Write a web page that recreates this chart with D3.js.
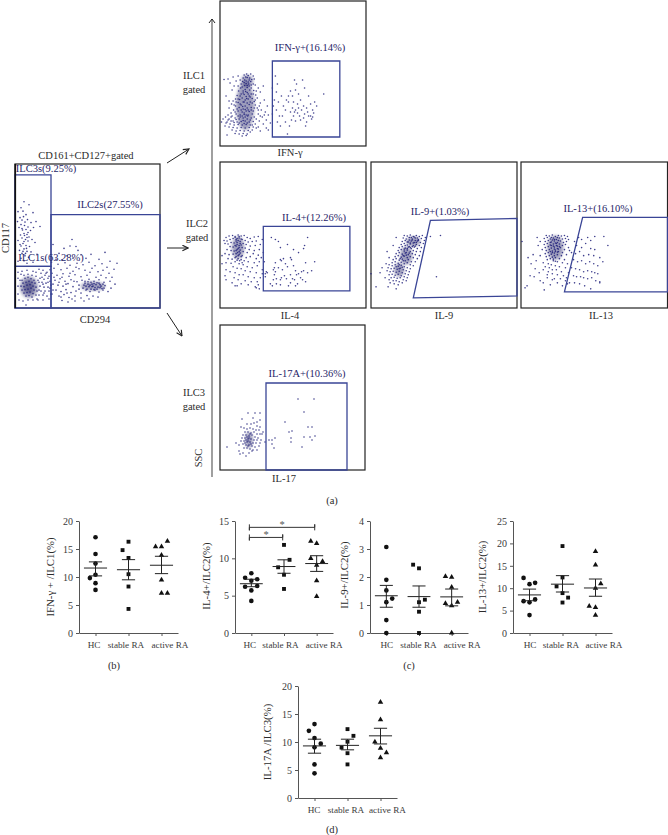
<!DOCTYPE html>
<html>
<head>
<meta charset="utf-8">
<script src="https://d3js.org/d3.v7.min.js"></script>
<style>
html, body { margin: 0; padding: 0; background: #fff; }
svg { display: block; }
text { font-family: "Liberation Serif", serif; fill: #2b2b2b; }
.axis path, .axis line { stroke: #555; stroke-width: 1; }
.axis text { font-family: "Liberation Serif", serif; font-size: 10px; fill: #3a3a3a; }
.axis.xa text { font-size: 9.2px; }
.gatelabel { fill: #1f2468; }
.star { fill: #555; }
</style>
</head>
<body>
<script>
// flow panels: dots, channel units, y up from the panel bottom
var mainDots = [[9,107],[6,101],[14,104],[3,97],[8,97.5],[11,94],[5,91],[18,96],[7,88.5],[12.5,89],[2.5,87],[16,86],[21,87],[25,82],[6,84],[9.5,83],[13,81.5],[4,81],[11,79],[7.5,78.5],[15.5,78],[18.5,81],[9,75],[12,74],[5.5,73.5],[14,71.5],[7,70.5],[10.5,69],[3,68],[13,67.5],[17,69],[20,66],[8,65],[6,62.5],[11,63],[14.5,62],[9,59.5],[4.5,58],[12,57],[16,56.5],[7,55],[10,52.5],[22,54],[13.5,51],[6,50],[3,47],[9,47.5],[18,46],[12,45],[8.5,92],[10,86.5],[7,80],[12,71],[9,67],[11.5,60],[8,57],[5,64],[13,76],[9.5,73],[10.5,55],
[57,69],[61,62],[55,62.5],[49,60],[38,64],[63,58],[66,53.5],[44,55],[52,52.5],[58,50],[41,49],[47,48.5],[71,50],[76,54],[90,56],[102,45],[84,49],[95,47],[36.5,46],[43,44],[50,45.5],[55,43],[62,45],[68,43.5],[74,46],[80,42.5],[87,44.5],[92,41],[99,39],[39,40],[46,38.5],[52,40],[58,37],[64,39.5],[70,38],[77,40],[83,36.5],[88,38],[94,35],[37,35],[42,33],[48,34.5],[54,32],[60,33.5],[66,31.5],[72,33],[75,36],[81,31],[86,33],[91,30.5],[97,31],[40,28],[45,29.5],[50,27],[56,28.5],[62,26.5],[67,28],[70,25],[74,29],[79,27],[84,28.5],[89,26],[95,27],[100,24],[38,24],[43,23],[48,22],[53,24.5],[58,21.5],[64,23],[68,20],[73,24],[77,21.5],[81,23.5],[85,20.5],[90,22.5],[96,20],[41,18],[46,16.5],[51,18.5],[56,15.5],[61,17],[66,15],[71,18],[75,16.5],[80,18],[84,16],[88,18],[93,16.5],[37,14],[44,12],[49,13.5],[54,10.5],[60,12],[66,10],[72,12.5],[78,12],[83,11],[47,7.5],[53,6],[60,7],[69,7],[74,9],
[70,27],[73,26.5],[76,26],[79,24.5],[82,25.5],[85,23.5],[88,24],[71,22],[74,21.5],[77,24],[80,20.5],[83,21],[86,22],[89,20],[72,19],[76,19],[79,18.5],[82,19],[87,19.5],[69,23],[75,23],[78,22],[84,25],
[24,39],[28,38],[32,36],[35,38.5],[26,35],[30,33],[34,32],[25,30],[29,29],[33,30],[27,26],[31,25],[35,27],[25,22],[29,21],[33,21],[36,23],[26,17],[30,17],[34,17],[24,13],[28,13],[32,12],[36,14],[23,8],[28,8],[34,9],[11,3],[4,8],[3,14],[3,22],[3,30],[3,36],[7,37],[12,38],[18,37],[21,36],[6,34],[9,33],[13,34],[17,33],[21,32],[5,28],[24,26],[22,9],[18,8],[13,8],[8,7],
[7,28],[10,30],[13,31],[16,29.5],[19,28],[8,25],[11,26],[14,27],[17,26],[20,25],[6,22],[9,21.5],[12,23],[15,23.5],[18,22],[21,21],[7,18],[10,18.5],[13,19],[16,20],[19,18],[22,17],[9,15],[12,15.5],[15,16],[18,14.5],[21,13],[11,12],[14,12.5],[17,11],
[27,31],[31,35],[23,28],[28,24],[33,26],[24,18],[29,15],[35,20],[38,18],[39,31],[44,26],[47,31],[51,24],[55,35],[59,27],[64,19],[61,41],[46,11],[52,15],[57,9]];
var mainCores = [[14,21,9,11],[14,21,5,7],[78,22,12,4.5]];

var ifnDots = [[24,71],[26.5,72],[28,70.5],[30.5,72],[33,70],[27,68.5],[29.5,68],[31.5,66.5],[24.5,66],[34,67],[22.5,64.5],[28,64],[30.5,64.5],[26,62.5],[33,62],[21,62],[24.5,60.5],[29,60],[35,61],[27,58.5],[31,58],[20.5,58],[25,56.5],[29.5,56],[23,55],[33.5,55.5],[18.5,55],[27,53.5],[21,52],[24,51.5],[31,52],[17,50.5],[26,49.5],[29,50],[35.5,51],[22,48],[15.5,47],[19.5,46.5],[25,46],[28,47],[32,47.5],[37,48],[13,45],[18,43.5],[23,44],[27,43],[30,44],[34,44.5],[11.5,42],[21,41],[25,40],[29,41.5],[35,41],[40,43],[15.5,40],[19,38.5],[23,37],[27,38],[31,38.5],[37,38],[9,38],[13.5,36],[18,35],[22,34],[26,35],[29,34.5],[33,35],[41,36],[11,33],[16,32],[20,31],[24,31.5],[28,31],[32,32],[38,32],[45,34],[8,31],[5.5,29],[11,29],[15,28],[19,27],[23,28],[27,27],[31,28],[36,27],[42,29],[48,31],[3,27],[8,26],[13,25],[17,24],[21,24.5],[25,25],[29,24],[33,24.5],[39,25],[46,26],[1.5,24],[6,23],[10,22],[14,21],[18,21.5],[22,21],[26,21.5],[30,21],[35,22],[43,22],[50,23],[5,20],[9,19],[13,18.5],[17,18],[21,18.5],[25,18],[29,18.5],[33,19],[38,19],[46,18],[12,16],[16,15],[20,15.5],[24,15],[28,15.5],[32,16],[40,15],[48,16],[15,12.5],[19,12],[23,12.5],[27,12],[22,10],[26,10.5],[7,11],[8,67],[4,66.5],[13,69],[10,63],[16,65],[18,70],[12,56],[6,50],[9,45],[40,54],[44,46],[47,40],[43,60],
[25.5,69],[23,68],[29,66],[26,65],[28.5,62],[24,63.5],[22,59],[27,60.5],[25.5,54.5],[23,53],[28,52],[26.5,47.5],[24,44],[20,42],[22.5,39.5],[25,36.5],[28,36],[21,36],[24,33],[26,31],[22,30],[25,29],[27.5,30],[23,25.5],[20,29],[18,30],[16,26.5],[19,23],[24,22.5],[27,23],[14,23.5],[11,25],
[32,43],[34,38],[31,36],[35,46],[30,49],[33,52],[20,50],[18,47],[16,44],[14,41],[17,37],[15,34],[12,30],[9,27],[7,24],[30,26],[34,29],[32,21],[36,18],[30,14],[38,36],[40,30],[44,31],[39,40],[36,55],[38,58],[31,61],[18,60],[14,60],[20,66],
[55,70],[57,62],[52,58],[56,54],[54,46],[58,44],[53,40],[56,36],[52,32],[59,30],[57,24],[61,50],[63,40],[65,36],[62,30],[65,24],[69,20],[67,12],[70,55],[72,50],[68,44],[72,38],[74,66],[76,62],[75,56],[78,52],[73,44],[77,42],[75,36],[70,34],[73,30],[77,33],[79,30],[75,25],[80,26],[82,66],[84,58],[80,46],[83,40],[81,36],[84,32],[86,38],[88,50],[90,42],[87,34],[90,30],[92,36],[93,33],[91,27],[86,24],[85,20],[94,44],[103,52],[96,40],[92,29],[68,50],[78,38],[74,34],[83,28],[66,46],[71,26],[60,20],[88,30]];
var ifnCores = [[25,40,9,24],[27,65,6,6]];

var il4Dots = [[6,70],[9,71.5],[12.5,72],[15,71],[18,72.5],[21,71.5],[24,72],[27,70],[30,69],[34,70.5],[38,71],[42,68],[4,67],[7,66.5],[10,68],[13,69],[16,68],[19,69.5],[22,68],[25,67],[28,65.5],[32,66],[36,66.5],[5,64],[8,63.5],[11,65],[14,64.5],[17,65],[20,66],[23,64],[26,63],[30,61.5],[35,62],[40,63],[10,61],[13,60.5],[16,61.5],[19,62],[22,60],[25,59.5],[29,58],[34,57],[39,58],[7,58],[11,57],[14,56.5],[17,58],[20,57.5],[23,56],[27,55],[33,54],[38,52.5],[43,55],[2,52],[5,54],[9,53],[13,53.5],[16,54],[19,53],[22,52],[26,50],[30,51],[36,49],[41,50],[8,49],[12,48.5],[15,50],[18,49],[21,48],[24,47],[28,46],[34,45],[39,46],[44,46],[6,45],[11,44.5],[15,46],[19,44],[23,43],[27,41],[32,40],[37,42],[13,41],[17,39.5],[21,39],[25,37],[30,36],[36,35],[42,38],[47,35],[6,38],[10,36],[15,35],[19,33],[23,33],[28,31],[34,30],[40,30],[45,31],[5,32],[14,30],[18,28],[25,27],[31,26],[37,26],[6,28],[12,25],[21,24],[28,23],[38,23],[42,34],[15,22],[17,22],[36,20],[35,21],[39,19],[2,44],
[15,70],[17,69],[19,71],[21,68.5],[16,66.5],[18,67],[20,64],[17,63],[15,62],[19,60],[21,62.5],[18,59],[16,57],[19,56],[17.5,55],[20,54.5],[18,52],[21,51],[16,51],[17,47.5],[19.5,47],[22,45],
[51,70],[55,68],[58,66],[60,60],[67,63],[73,58],[87,70],[84,62],[83,59],[55,45],[54,40],[60,48],[53,38],[55,36],[54,33],[46,36],[45,34],[61,47],[63,49],[65,44],[58,40],[62,38],[67,41],[70,50],[73,42],[75,37],[78,55],[61,30],[64,32],[60,28],[56,29],[53,28],[66,29],[70,33],[76,33],[72,29],[74,28],[78,34],[80,30],[82,28],[85,26],[77,24],[70,25],[75,22],[56,24],[52,22],[50,24],[60,23],[68,22],[85,45],[94,46],[81,36],[91,37],[87,35],[83,37],[71,48]];
var il4Cores = [[18,60,6,11]];

var il9Dots = [[59,71],[69,72],[65,31],[5,21],[0,34],[9,35],[33,72],[36,71.5],[39,72.5],[42,71],[45,72],[48,71],[51,72],[54,70],[32,69.5],[35,68.5],[38,70],[41,68.5],[44,69.5],[47,68],[50,69],[53,67],[31,66],[34,67],[37,65.5],[40,66.5],[43,65],[46,66.5],[49,65],[52,64],[30,63],[33,64],[36,62.5],[39,63.5],[42,62],[45,63],[48,62],[28,60],[31,61],[34,59.5],[37,60.5],[40,59],[43,60.5],[46,59],[50,60],[27,57],[30,58],[33,56.5],[36,57.5],[39,56],[42,57],[45,56],[49,56],[25,54],[28,55],[31,53.5],[34,54.5],[37,53],[41,54],[44,53],[48,52],[24,51],[27,52],[30,50.5],[33,51.5],[36,50],[39,51],[42,50],[46,49],[22,48],[25,49],[28,47.5],[31,48.5],[34,47],[37,48],[40,46],[44,46],[21,45],[24,46],[27,44.5],[30,45.5],[33,44],[36,45],[39,43],[42,42],[18,43],[21,42],[24,43],[27,41.5],[30,42.5],[33,41],[36,40],[39,39],[15,44],[17,40],[20,39],[23,39.5],[26,38.5],[29,39.5],[32,38],[35,37],[38,36],[16,37],[19,36],[22,36.5],[25,35.5],[28,36.5],[31,35],[34,34],[37,33],[18,33],[21,33.5],[24,32.5],[27,33.5],[30,32],[33,31],[36,30],[20,30],[23,30.5],[26,29.5],[29,30],[32,28],[35,27],[18,28],[22,27],[25,27],[28,26],[31,25],[19,25],[23,24],[27,23],[17,21],[25,19],[16,56],[22,62],[25,70],[18,50],[11,40],[14,30],
[40,70],[43,70.5],[46,69.5],[41,67.5],[44,67],[47,67],[38,67.5],[42,64.5],[45,65],[39,64.5],[36,65.5],[41,61],[44,61.5],[38,61],[34,62],[39,60],[36,59],[33,58.5],[35,55],[38,54.5],[32,52],[35,52.5],[29,49],[32,47],[28,43],[31,40.5],[25,41],[28,39]];
var il9Cores = [[42,66,7,5],[35,52,6,9],[28,38,5,7]];

var il13Dots = [[1,66],[16,70],[19,66],[17,62],[21,58],[12,53],[7,50],[10,44],[15,47],[19,52],[14,39],[18,35],[22,38],[13,31],[9,32],[4,20],[6,22],[22,25],[23,18],[19,27],[26,30],[29,23],[31,28],[36,25],[41,22],[44,27],[25,72],[28,71.5],[31,72.5],[34,71],[37,72],[40,71.5],[43,72],[46,71],[23,69],[26,70],[29,68.5],[32,69.5],[35,68],[38,69.5],[41,68.5],[44,69],[47,68],[24,66],[27,67],[30,65.5],[33,66.5],[36,65],[39,66.5],[42,65],[45,66],[23,63],[26,64],[29,62.5],[32,63.5],[35,62],[38,63.5],[41,62],[44,63],[47,60],[24,60],[27,61],[30,59.5],[33,60.5],[36,59],[39,60],[43,58],[48,57],[25,57],[28,58],[31,56.5],[34,57.5],[37,56],[41,55],[24,54],[27,55],[30,53.5],[33,54.5],[36,53],[40,52],[45,53],[25,51],[28,52],[31,50.5],[34,50],[38,49],[43,48],[26,48],[29,49],[32,47],[36,46],[41,45],[46,44],[22,45],[27,44],[30,43],[34,42],[38,41],[44,40],[24,41],[28,40],[31,38],[35,38],[40,36],[47,35],[27,36],[31,34],[36,33],[42,32],[26,33],[33,29],[39,29],[45,30],
[30,70],[33,68],[36,70],[31,67.5],[34,64.5],[37,67],[29,65],[32,61.5],[35,64],[38,61],[30,62],[33,58.5],[36,61.5],[31,55],[34,56],[37,58.5],[29,56],[33,52],[36,55.5],[32,48.5],[34,46.5],
[57,70],[60,68],[66,70],[69,67],[73,71],[82,71],[86,62],[53,66],[55,62],[60,60],[64,64],[69,59],[73,58],[50,55],[54,54],[58,56],[62,52],[67,53],[72,52],[78,50],[81,46],[52,48],[56,46],[60,47],[64,44],[68,46],[72,44],[76,42],[50,40],[54,39],[58,38],[62,36],[66,37],[70,36],[73,35],[76,34],[52,32],[55,31],[59,31],[62,30],[66,29],[70,30],[74,27],[78,25],[48,25],[53,25],[58,24],[63,22],[69,19],[78,26],[46,24]];
var il13Cores = [[34,60,8,12]];

var il17Dots = [[78,71],[94,71],[84,58],[65,48],[88,43],[92,43],[69,38],[72,39],[71,32],[71,28],[84,33],[90,33],[92,30],[95,34],[82,23],[55,32],[49,30],[52,30],[52,26],[54,22],[43,38],[40,57],[35,57],[28,57],[21,43],[7,23],[22,51],[33,52],[37,48],[40,50],[27,46],[31,46],[34,47],[37,44],[40,43],[24,42],[27,41],[30,42],[33,41],[36,40],[39,40],[42,36],[25,38],[28,38],[31,37],[34,38],[37,36],[40,36],[23,35],[26,35],[29,34],[32,35],[35,33],[38,32],[41,30],[45,28],[22,32],[25,32],[28,31],[31,31],[34,30],[37,30],[40,27],[21,29],[24,29],[27,28],[30,28],[33,27],[36,27],[39,24],[16,27],[19,25],[23,26],[26,25],[29,25],[32,24],[35,23],[24,22],[27,22],[30,21],[33,20],[37,20],[20,16],[23,17],[26,14],[29,17],[32,19],[19,19],[27,33],[30,36],[28,29],[26,30],[29,32],[31,26],[25,27],[28,24]];
var il17Cores = [[29,30,4,8]];

// gate outlines, same channel units
var mainGates = [[[0,42],[36,42],[36,134],[0,134]],[[0,0],[36,0],[36,42],[0,42]],[[36,0],[145,0],[145,94],[36,94]]];
var ifnGates = [[[52,9],[119,9],[119,85],[52,85]]];
var il4Gates = [[[43,17],[129,17],[129,81],[43,81]]];
var il9Gates = [[[59,87],[145,89],[145,12],[42,10]]];
var il13Gates = [[[61,90],[145,90],[145,16],[43,16]]];
var il17Gates = [[[46,0],[127,0],[127,87],[46,87]]];

// dot plots: each point is [offset from group centre in group widths, value]
var groups = ["HC", "stable RA", "active RA"];
var shapes = [d3.symbolCircle, d3.symbolSquare, d3.symbolTriangle];

var ifnPts = [
  [[0,17.1],[0,14.1],[0,12.4],[0,10.4],[-0.17,9.8],[0,8.9],[0,7.7]],
  [[0,16.3],[-0.18,14.8],[0,13.4],[0,10.5],[0,8.3],[0,4.3]],
  [[-0.18,15.4],[0,15.4],[0.18,16.4],[0,13.9],[0,9.5],[0,7.1],[0.18,7.1]]
];
var ifnMean = [11.6, 11.3, 12.1], ifnHi = [12.7, 13.1, 13.7], ifnLo = [10.2, 9.5, 10.6];

var il4Pts = [
  [[0,8.0],[-0.19,7.4],[0.18,7.2],[0,7.0],[-0.19,6.2],[0.18,6.3],[0,5.7],[0,4.3]],
  [[0,11.8],[0.17,9.8],[-0.18,8.8],[0,7.8],[0,5.9]],
  [[-0.18,12.3],[0,12.0],[-0.18,10.0],[0.18,9.6],[0,9.1],[0,7.0],[0,4.9]]
];
var il4Mean = [6.6, 8.9, 9.3], il4Hi = [7.2, 9.8, 10.35], il4Lo = [6.2, 8.0, 8.25];

var il9Pts = [
  [[0,3.07],[0,1.9],[0,1.52],[0.18,1.23],[0,1.1],[0,0.46],[0,0]],
  [[-0.18,2.44],[0,2.31],[0.18,1.19],[0,1.1],[0,0.76],[0,0]],
  [[-0.19,2.02],[0,1.99],[0,1.64],[-0.19,1.06],[0.18,1.1],[0,0.98],[0,0]]
];
var il9Mean = [1.33, 1.3, 1.29], il9Hi = [1.7, 1.68, 1.57], il9Lo = [0.92, 0.92, 0.97];

var il13Pts = [
  [[-0.18,12.3],[0.17,11.2],[0,10.9],[0.17,7.5],[-0.18,7.1],[0,6.85],[0,4.0]],
  [[0,19.4],[0,12.4],[-0.18,10.4],[0.17,7.9],[0,8.9],[0,6.8]],
  [[0,18.2],[0,15.2],[0.16,11],[0,10],[-0.19,6],[0,5.7],[0,4]]
];
var il13Mean = [8.5, 10.9, 10.05], il13Hi = [9.8, 12.8, 12.05], il13Lo = [7.2, 9.15, 8.2];

var il17Pts = [
  [[0,13.2],[-0.17,12],[0,10.7],[0.19,9.7],[0,9.05],[0,6],[0,4.4]],
  [[0,12.3],[0.18,11.1],[0,10.05],[-0.18,9],[0,8],[0,6]],
  [[0,17.1],[0,14],[-0.17,10],[0,8.9],[0.18,8.1],[0,7.2]]
];
var il17Mean = [9.3, 9.4, 11.1], il17Hi = [10.5, 10.5, 12.45], il17Lo = [8, 8.6, 9.65];

var il4Brackets = [[0.44, 1.46, 12.8], [0.44, 2.44, 14.15]];

var svg = d3.select("body").append("svg").attr("width", 668).attr("height", 835);

var defs = svg.append("defs");
defs.append("filter").attr("id", "soft").append("feGaussianBlur").attr("stdDeviation", 1.8);
defs.append("marker").attr("id", "head").attr("viewBox", "0 0 10 10").attr("refX", 9).attr("refY", 5)
  .attr("markerWidth", 7).attr("markerHeight", 7).attr("orient", "auto")
  .append("path").attr("d", "M1,1 L9,5 L1,9").attr("fill", "none").attr("stroke", "#222").attr("stroke-width", 1.6);

function flowPanel(x0, y0, w, h, dots, cores, gates) {
  var x = d3.scaleLinear().domain([0, 145]).range([x0, x0 + w]);
  var y = d3.scaleLinear().domain([0, 145]).range([y0 + h, y0]);
  var g = svg.append("g");
  g.append("rect").attr("x", x0).attr("y", y0).attr("width", w).attr("height", h)
    .attr("fill", "#fff").attr("stroke", "#222").attr("stroke-width", 1.2);
  g.selectAll(".core").data(cores).enter().append("ellipse")
    .attr("cx", function(d) { return x(d[0]); })
    .attr("cy", function(d) { return y(d[1]); })
    .attr("rx", function(d) { return x(d[2]) - x(0); })
    .attr("ry", function(d) { return y(0) - y(d[3]); })
    .attr("fill", "#17175f").attr("opacity", 0.42).attr("filter", "url(#soft)");
  g.selectAll(".dot").data(dots).enter().append("circle")
    .attr("cx", function(d) { return x(d[0]); })
    .attr("cy", function(d) { return y(d[1]); })
    .attr("r", 0.8)
    .attr("fill", "#1e1e7a").attr("opacity", 0.85);
  var line = d3.line().x(function(d) { return x(d[0]); }).y(function(d) { return y(d[1]); });
  g.selectAll(".gate").data(gates).enter().append("path")
    .attr("d", function(d) { return line(d) + "Z"; })
    .attr("fill", "none").attr("stroke", "#3a4596").attr("stroke-width", 1.3);
}

flowPanel(15, 164, 145, 144, mainDots, mainCores, mainGates);
flowPanel(220, 1, 146, 145, ifnDots, ifnCores, ifnGates);
flowPanel(220, 162, 146, 146, il4Dots, il4Cores, il4Gates);
flowPanel(371, 162, 146, 146, il9Dots, il9Cores, il9Gates);
flowPanel(521, 162, 146.5, 146, il13Dots, il13Cores, il13Gates);
flowPanel(220, 325, 145, 145, il17Dots, il17Cores, il17Gates);

svg.append("rect").attr("x", 14.5).attr("y", 164).attr("width", 1.6).attr("height", 144).attr("fill", "#111");

function arrow(x1, y1, x2, y2, col, sw) {
  svg.append("line").attr("x1", x1).attr("y1", y1).attr("x2", x2).attr("y2", y2)
    .attr("stroke", col).attr("stroke-width", sw).attr("marker-end", "url(#head)");
}
arrow(167, 163, 189, 149, "#222", 1);
arrow(167, 248, 188, 248, "#222", 1);
arrow(167, 313, 182, 336, "#222", 1);
svg.append("line").attr("x1", 212).attr("y1", 477).attr("x2", 212).attr("y2", 19).attr("stroke", "#777").attr("stroke-width", 1.4);
svg.append("path").attr("d", "M209,23 L212,19 L215,23").attr("fill", "none").attr("stroke", "#222").attr("stroke-width", 1);

function dotPlot(left, right, top, bottom, maxY, ticks, pts, mean, hi, lo, yTitle, titleX, titleY, labelShift) {
  var x = d3.scaleLinear().domain([0, 3]).range([left, right]);
  var y = d3.scaleLinear().domain([0, maxY]).range([bottom, top]);

  svg.append("g").attr("class", "axis").attr("transform", "translate(" + left + ",0)")
    .call(d3.axisLeft(y).tickValues(ticks).tickSize(3).tickPadding(3).tickSizeOuter(0).tickFormat(d3.format("d")));
  var xa = svg.append("g").attr("class", "axis xa").attr("transform", "translate(0," + bottom + ")")
    .call(d3.axisBottom(x).tickValues([0.5, 1.5, 2.5]).tickSize(3).tickPadding(5).tickSizeOuter(0)
      .tickFormat(function(d, i) { return groups[i]; }));
  // the labels sit off their ticks in the original so they fit side by side
  xa.selectAll(".tick text").attr("dx", function(d, i) { return labelShift[i]; });

  groups.forEach(function(name, i) {
    var c = i + 0.5;
    var g = svg.append("g");
    g.selectAll("path").data(pts[i]).enter().append("path")
      .attr("d", d3.symbol().type(shapes[i]).size(i == 0 ? 17 : (i == 1 ? 15 : 13)))
      .attr("transform", function(d) { return "translate(" + x(c + d[0]) + "," + y(d[1]) + ")"; })
      .attr("fill", "#111");
    // mean line and sem bars
    var bars = [[c - 0.35, c + 0.35, mean[i]], [c - 0.2, c + 0.2, hi[i]], [c - 0.2, c + 0.2, lo[i]]];
    g.selectAll("line.bar").data(bars).enter().append("line").attr("class", "bar")
      .attr("x1", function(d) { return x(d[0]); })
      .attr("x2", function(d) { return x(d[1]); })
      .attr("y1", function(d) { return y(d[2]); })
      .attr("y2", function(d) { return y(d[2]); })
      .attr("stroke", "#222").attr("stroke-width", 1);
    g.append("line").attr("x1", x(c)).attr("x2", x(c)).attr("y1", y(hi[i])).attr("y2", y(lo[i]))
      .attr("stroke", "#222").attr("stroke-width", 1);
  });

  svg.append("text").attr("transform", "translate(" + titleX + "," + titleY + ") rotate(-90)")
    .attr("text-anchor", "middle").attr("font-size", "10.8px").text(yTitle);
  return { x: x, y: y };
}

dotPlot(79, 178, 521, 633, 20, [0, 5, 10, 15, 20], ifnPts, ifnMean, ifnHi, ifnLo, "IFN-γ + /ILC1(%)", 54, 577, [-2, -3, 8]);
var il4Plot = dotPlot(235, 333, 521, 633, 15, [0, 5, 10, 15], il4Pts, il4Mean, il4Hi, il4Lo, "IL-4+/ILC2(%)", 210, 576, [-2, -4, 7]);
dotPlot(370, 468, 521, 633, 4, [0, 1, 2, 3, 4], il9Pts, il9Mean, il9Hi, il9Lo, "IL-9+/ILC2(%)", 348, 575, [0, -1, 10]);
dotPlot(513, 612, 521, 633, 25, [0, 5, 10, 15, 20, 25], il13Pts, il13Mean, il13Hi, il13Lo, "IL-13+/ILC2(%)", 486, 577, [0, -2, 8]);
dotPlot(298, 397, 686, 798, 20, [0, 5, 10, 15, 20], il17Pts, il17Mean, il17Hi, il17Lo, "IL-17A /ILC3(%)", 271, 742, [-1, -2, 6.5]);

// significance brackets
il4Brackets.forEach(function(b) {
  var x = il4Plot.x, y = il4Plot.y;
  svg.append("path")
    .attr("d", "M" + x(b[0]) + "," + (y(b[2]) - 3) + "V" + (y(b[2]) + 3) + "V" + y(b[2]) + "H" + x(b[1]) + "V" + (y(b[2]) - 3) + "V" + (y(b[2]) + 3))
    .attr("fill", "none").attr("stroke", "#333").attr("stroke-width", 1);
  svg.append("text").attr("class", "star").attr("x", (x(b[0]) + x(b[1])) / 2).attr("y", y(b[2]) + 1)
    .attr("text-anchor", "middle").attr("font-size", "10.5px").text("*");
});

// labels
var blackLabels = [
  ["CD161+CD127+gated", 86, 156], ["CD294", 95, 320],
  ["ILC1", 194, 76], ["gated", 194, 90], ["IFN-γ", 290, 153],
  ["ILC2", 197, 224], ["gated", 197, 238], ["IL-4", 290, 316], ["IL-9", 444, 316], ["IL-13", 601, 316],
  ["ILC3", 194, 393], ["gated", 194, 407], ["IL-17", 284, 479],
  ["(a)", 332, 501], ["(b)", 114, 666], ["(c)", 409, 666], ["(d)", 332, 830]
];
var gateLabels = [
  ["ILC3s(9.25%)", 46, 169], ["ILC2s(27.55%)", 110, 205], ["ILC1s(63.28%)", 51, 258],
  ["IFN-γ+(16.14%)", 310, 48], ["IL-4+(12.26%)", 314, 218], ["IL-9+(1.03%)", 440, 212],
  ["IL-13+(16.10%)", 598, 209], ["IL-17A+(10.36%)", 307, 374]
];
svg.selectAll("text.black").data(blackLabels).enter().append("text").attr("class", "black")
  .attr("x", function(d) { return d[1]; })
  .attr("y", function(d) { return d[2]; })
  .attr("dy", "0.33em").attr("text-anchor", "middle").attr("font-size", "10.5px")
  .text(function(d) { return d[0]; });
svg.selectAll("text.gatelabel").data(gateLabels).enter().append("text").attr("class", "gatelabel")
  .attr("x", function(d) { return d[1]; })
  .attr("y", function(d) { return d[2]; })
  .attr("dy", "0.33em").attr("text-anchor", "middle").attr("font-size", "10.5px")
  .text(function(d) { return d[0]; });
svg.append("text").attr("transform", "translate(6,238) rotate(-90)").attr("dy", "0.33em")
  .attr("text-anchor", "middle").attr("font-size", "10.5px").text("CD117");
svg.append("text").attr("transform", "translate(199,458) rotate(-90)").attr("dy", "0.33em")
  .attr("text-anchor", "middle").attr("font-size", "10.5px").text("SSC");
</script>
</body>
</html>
